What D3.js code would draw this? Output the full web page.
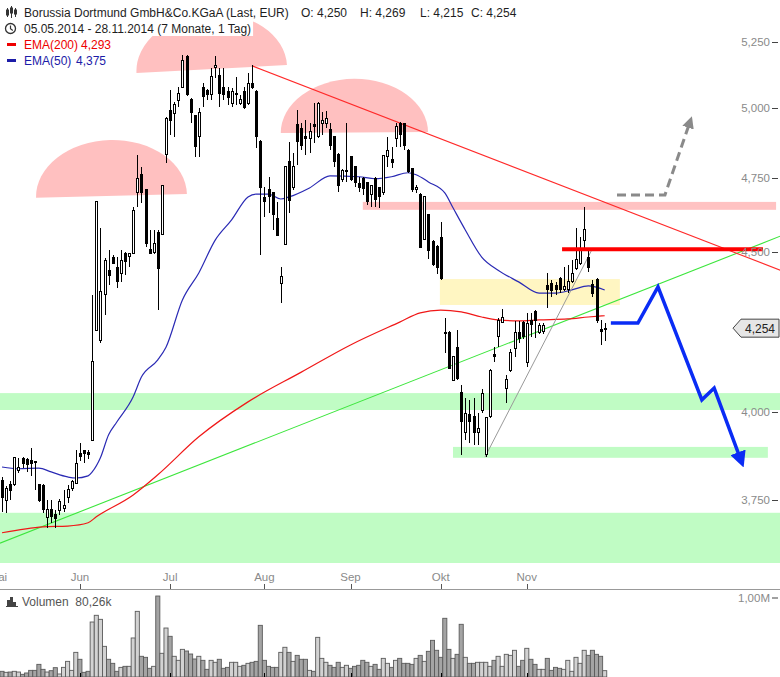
<!DOCTYPE html>
<html><head><meta charset="utf-8">
<script src="https://cdn.jsdelivr.net/npm/d3@7"></script>
<style>
body{margin:0;background:#fff}
svg{display:block;font-family:"Liberation Sans",Arial,sans-serif}
</style>
</head><body>
<svg id="c" width="780" height="677"></svg>
<script>
// ---------------- DATA ----------------
const open=[3.805,3.750,3.794,3.794,3.831,3.865,3.862,3.859,3.857,3.792,
3.789,3.701,3.723,3.709,3.720,3.728,3.756,3.781,3.797,3.879,
3.889,3.884,3.916,4.248,4.217,4.359,4.439,4.482,4.449,4.429,
4.495,4.485,4.495,4.698,4.761,4.708,4.508,4.498,4.565,4.558,
4.831,4.989,4.978,5.029,5.077,5.194,5.033,4.971,4.895,5.077,
5.066,5.048,5.149,5.122,5.077,5.059,5.018,5.048,5.018,5.059,
5.018,5.092,5.059,4.877,4.681,4.708,4.698,4.609,4.397,4.525,
4.806,4.718,4.938,4.927,4.898,4.891,4.938,4.895,4.945,4.945,
4.920,4.895,4.831,4.743,4.773,4.824,4.789,4.729,4.747,4.733,
4.691,4.747,4.715,4.698,4.824,4.813,4.891,4.945,4.942,4.848,
4.782,4.708,4.694,4.541,4.623,4.532,4.518,4.548,4.242,4.242,
4.095,4.195,4.059,3.939,3.992,3.986,3.939,4.006,3.876,3.986,
4.174,4.227,4.273,4.071,4.125,4.192,4.239,4.273,4.147,4.277,
4.305,4.242,4.245,4.388,4.397,4.388,4.413,4.375,4.375,4.401,
4.443,4.462,4.538,4.479,4.391,4.410,4.251,4.250];
const high=[3.814,3.789,3.802,3.870,3.868,3.870,3.868,3.896,3.860,3.794,
3.794,3.750,3.750,3.723,3.753,3.778,3.792,3.805,3.890,3.910,
3.890,3.890,4.359,4.671,4.579,4.479,4.505,4.488,4.482,4.505,
4.498,4.495,4.650,4.831,4.789,4.712,4.572,4.572,4.572,4.726,
4.967,5.066,5.022,5.077,5.198,5.198,5.037,4.975,5.000,5.092,
5.070,5.149,5.194,5.149,5.149,5.077,5.074,5.115,5.048,5.077,
5.130,5.160,5.066,4.884,4.718,4.754,4.701,4.667,4.449,4.792,
4.877,4.838,4.993,4.945,4.956,4.945,5.018,5.022,4.985,4.989,
4.945,4.898,4.838,4.782,4.945,4.827,4.792,4.754,4.754,4.736,
4.726,4.754,4.718,4.831,4.895,4.859,4.945,4.949,4.945,4.852,
4.785,4.726,4.698,4.688,4.626,4.538,4.522,4.599,4.286,4.245,
4.168,4.248,4.080,4.042,4.036,4.042,3.997,4.068,3.986,4.128,
4.195,4.286,4.314,4.110,4.189,4.277,4.277,4.277,4.302,4.302,
4.311,4.270,4.270,4.429,4.407,4.401,4.417,4.449,4.456,4.472,
4.579,4.548,4.650,4.512,4.407,4.413,4.280,4.269];
const low=[3.718,3.715,3.750,3.789,3.825,3.840,3.828,3.817,3.778,3.745,
3.715,3.674,3.688,3.674,3.709,3.718,3.742,3.775,3.794,3.859,
3.853,3.865,3.916,4.245,4.208,4.295,4.391,4.459,4.381,4.401,
4.423,4.449,4.492,4.650,4.664,4.515,4.492,4.492,4.311,4.555,
4.803,4.902,4.895,5.004,5.074,5.044,4.945,4.824,4.824,5.004,
5.029,5.029,5.111,5.004,5.029,5.011,5.004,5.011,5.011,4.996,
5.011,5.070,4.855,4.488,4.616,4.630,4.572,4.552,4.333,4.522,
4.630,4.708,4.796,4.848,4.831,4.838,4.873,4.891,4.902,4.927,
4.848,4.789,4.701,4.736,4.736,4.740,4.718,4.701,4.691,4.657,
4.650,4.650,4.647,4.691,4.789,4.785,4.859,4.859,4.848,4.768,
4.701,4.698,4.512,4.538,4.475,4.452,4.426,4.407,4.177,4.128,
4.092,4.095,3.876,3.919,3.910,3.904,3.904,3.997,3.870,3.983,
4.150,4.195,4.270,4.027,4.119,4.165,4.208,4.220,4.134,4.227,
4.223,4.236,4.236,4.318,4.353,4.359,4.365,4.372,4.365,4.397,
4.439,4.456,4.505,4.433,4.353,4.270,4.202,4.215];
const close=[3.758,3.781,3.775,3.868,3.840,3.853,3.848,3.853,3.854,3.750,
3.723,3.723,3.704,3.699,3.747,3.734,3.778,3.800,3.851,3.873,
3.879,3.876,4.150,4.667,4.369,4.469,4.423,4.462,4.401,4.469,
4.466,4.492,4.637,4.747,4.698,4.528,4.495,4.528,4.446,4.722,
4.963,4.956,5.011,5.055,5.179,5.048,4.982,4.859,4.985,5.044,
5.048,5.115,5.160,5.055,5.048,5.037,5.059,5.055,5.033,5.000,
5.092,5.074,4.895,4.718,4.667,4.684,4.623,4.555,4.417,4.789,
4.671,4.789,4.877,4.866,4.891,4.916,4.931,5.018,4.956,4.960,
4.866,4.806,4.722,4.775,4.776,4.743,4.733,4.718,4.712,4.667,
4.722,4.674,4.684,4.827,4.848,4.803,4.934,4.902,4.866,4.771,
4.708,4.718,4.515,4.684,4.505,4.459,4.449,4.413,4.236,4.131,
4.165,4.101,3.971,3.997,3.971,3.939,3.951,4.056,3.983,4.125,
4.165,4.277,4.286,4.098,4.180,4.242,4.223,4.227,4.270,4.267,
4.277,4.261,4.261,4.375,4.372,4.378,4.375,4.385,4.401,4.429,
4.475,4.505,4.572,4.449,4.362,4.277,4.245,4.254];
// volume in thousands
const volume=[72,59,63,72,63,34,51,84,84,160,
97,63,80,118,38,122,198,84,312,224,
59,72,696,781,730,388,224,173,72,122,
135,135,494,831,262,249,110,135,1025,300,
620,515,262,211,350,329,291,228,262,211,
97,211,186,224,110,122,186,186,135,148,
173,186,198,654,211,135,122,122,312,376,
312,198,274,224,224,84,72,502,236,186,
148,122,186,122,148,110,135,148,211,186,
135,160,97,236,173,122,211,236,173,173,
160,236,274,198,325,464,338,249,743,350,
236,287,667,249,173,173,186,186,186,135,
211,262,135,287,274,338,135,211,363,224,
160,97,97,236,84,122,110,97,211,72,
249,173,338,274,338,287,262,80.26];

const ema50Idx=[0,4,9,12,16,18,21,22,24,26,28,32,34,38,40,44,48,52,56,60,62,65,68,70,75,80,87,91,95,99,101,104,108,110,113,117,121,126,131,135,139,143,147];
const ema50Val=[3.842,3.837,3.839,3.828,3.814,3.811,3.817,3.828,3.868,3.934,3.971,4.045,4.104,4.156,4.195,4.343,4.430,4.538,4.606,4.684,4.694,4.694,4.677,4.684,4.715,4.757,4.754,4.747,4.754,4.768,4.761,4.736,4.698,4.647,4.572,4.482,4.439,4.401,4.365,4.365,4.375,4.388,4.375];
const ema200Idx=[0,10,16,21,23,32,38,48,60,73,85,97,102,107,112,117,121,126,131,138,143,147];
const ema200Val=[3.661,3.677,3.679,3.688,3.704,3.764,3.820,3.928,4.030,4.119,4.202,4.273,4.302,4.311,4.305,4.289,4.280,4.277,4.280,4.283,4.289,4.293];

const priceTicks=[3.75,4.0,4.5,4.75,5.0,5.25];
const monthLabels=["Mai","Jun","Jul","Aug","Sep","Okt","Nov"];
const monthIdx=[-1,19,41,64,85,107,128];

// annotation shapes (index, price)
const caps=[ // [leftIdx,leftPrice,rightIdx,rightPrice,topPrice]
 [8.3,4.681,45.1,4.694,4.884],
 [32.8,5.130,69.5,5.160,5.36],
 [68.0,4.909,103.9,4.913,5.108]];
const greenBands=[[-2,4.006,4.056,191],[110,3.868,3.899,186.8],[-2,3.560,3.715,191]];
const pinkBand=[88,4.640,4.667,188.8];
const yellowBand=[106.8,4.327,4.410,150.7];
const downTrend=[[61.2,5.156],[189.8,4.439]];
const upTrend=[[-0.5,3.633],[189.8,4.551]];
const grayLine=[[117.8,3.870],[144.1,4.512]];
const resistLine=[[136.6,4.508],[185.6,4.508]];
const grayArrow=[[150,4.691],[161.7,4.691],[167.8,4.949]];
const blueArrow=[[148.5,4.270],[155.1,4.270],[160,4.385],[170.7,4.036],[173.7,4.071],[180.2,3.862]];
const lastPrice=4.254;

// ---------------- SCALES ----------------
const svg=d3.select("#c");
const x=d3.scaleLinear().domain([0,147]).range([2,604.7]);
const y=d3.scaleLog().domain([3.75,5.25]).range([500,41.5]);
const yv=d3.scaleLinear().domain([0,1000]).range([677,598]);

const defs=svg.append("defs");
defs.append("clipPath").attr("id","pc").append("rect").attr("x",0).attr("y",0).attr("width",780).attr("height",563);
defs.append("marker").attr("id","ab").attr("viewBox","0 0 10 10").attr("refX",5).attr("refY",5)
 .attr("markerWidth",4.6).attr("markerHeight",4.6).attr("orient","auto").attr("markerUnits","strokeWidth")
 .append("path").attr("d","M0,0L10,5L0,10Z").attr("fill","#0a2cf5");
defs.append("marker").attr("id","ag").attr("viewBox","0 0 10 10").attr("refX",5).attr("refY",5)
 .attr("markerWidth",4).attr("markerHeight",4).attr("orient","auto").attr("markerUnits","strokeWidth")
 .append("path").attr("d","M0,0L10,5L0,10Z").attr("fill","#8a8a8a");

const P=svg.append("g").attr("clip-path","url(#pc)");

// bands
P.selectAll(".gb").data(greenBands).join("rect")
 .attr("x",d=>x(d[0])).attr("width",d=>x(d[3])-x(d[0]))
 .attr("y",d=>y(d[2])).attr("height",d=>y(d[1])-y(d[2])).attr("fill","#c0fcc4");
P.append("rect").attr("x",x(yellowBand[0])).attr("width",x(yellowBand[3])-x(yellowBand[0]))
 .attr("y",y(yellowBand[2])).attr("height",y(yellowBand[1])-y(yellowBand[2])).attr("fill","#fff6c2");
P.append("rect").attr("x",x(pinkBand[0])).attr("width",x(pinkBand[3])-x(pinkBand[0]))
 .attr("y",y(pinkBand[2])).attr("height",y(pinkBand[1])-y(pinkBand[2])).attr("fill","#ffc2c2");

// caps
P.selectAll(".cap").data(caps).join("path").attr("fill","#ffc0c0")
 .attr("d",d=>{
   const x0=x(d[0]),y0=y(d[1]),x1=x(d[2]),y1=y(d[3]);
   const rx=Math.hypot(x1-x0,y1-y0)/2, my=(y0+y1)/2, ry=my-y(d[4]);
   const rot=Math.atan2(y1-y0,x1-x0)*180/Math.PI;
   return `M${x0},${y0}A${rx},${ry} ${rot} 0 1 ${x1},${y1}Z`;
 });

const ln=d3.line().x(d=>x(d[0])).y(d=>y(d[1]));
// trend lines
P.append("path").attr("d",ln(upTrend)).attr("stroke","#3de63d").attr("stroke-width",1.1).attr("fill","none");
P.append("path").attr("d",ln(downTrend)).attr("stroke","#ff2a2a").attr("stroke-width",1.1).attr("fill","none");

// EMAs
const lc=d3.line().curve(d3.curveMonotoneX).x(d=>x(d[0])).y(d=>y(d[1]));
P.append("path").attr("d",lc(ema200Idx.map((d,i)=>[d,ema200Val[i]]))).attr("stroke","#f01818").attr("stroke-width",1.2).attr("fill","none");
P.append("path").attr("d",lc(ema50Idx.map((d,i)=>[d,ema50Val[i]]))).attr("stroke","#2a2ab4").attr("stroke-width",1.2).attr("fill","none");

// gray line
P.append("path").attr("d",ln(grayLine)).attr("stroke","#999").attr("stroke-width",1).attr("fill","none");

// candles
const idx=d3.range(open.length);
const cg=P.append("g").attr("shape-rendering","crispEdges");
cg.selectAll(".w").data(idx).join("line")
 .attr("x1",i=>Math.round(x(i))+0.5).attr("x2",i=>Math.round(x(i))+0.5)
 .attr("y1",i=>y(high[i])).attr("y2",i=>y(low[i])).attr("stroke","#000");
cg.selectAll(".b").data(idx).join("rect")
 .attr("x",i=>Math.round(x(i))-0.5).attr("width",2)
 .attr("y",i=>y(Math.max(open[i],close[i])))
 .attr("height",i=>Math.max(1,Math.abs(y(open[i])-y(close[i]))))
 .attr("fill",i=>close[i]>=open[i]?"#fff":"#000").attr("stroke","#000");

// resistance line & arrows
P.append("path").attr("d",ln(resistLine)).attr("stroke","#ff0000").attr("stroke-width",4).attr("fill","none");
P.append("path").attr("d",ln(grayArrow)).attr("stroke","#8a8a8a").attr("stroke-width",3).attr("stroke-dasharray","9,5").attr("fill","none").attr("marker-end","url(#ag)");
P.append("path").attr("d",ln(blueArrow)).attr("stroke","#0a2cf5").attr("stroke-width",3.5).attr("fill","none").attr("stroke-linejoin","miter").attr("marker-end","url(#ab)");

// right axis
const ax=svg.append("g");
ax.selectAll("text").data(priceTicks).join("text").attr("x",770).attr("y",d=>y(d)+4)
 .attr("text-anchor","end").attr("font-size",11.5).attr("fill","#8a8a8a").text(d=>d3.format(",.3f")(d).replace(".",","));
ax.selectAll("line").data(priceTicks).join("line").attr("x1",772).attr("x2",778).attr("y1",d=>Math.round(y(d))+0.5).attr("y2",d=>Math.round(y(d))+0.5).attr("stroke","#444");

// last price marker
const ly=y(lastPrice);
svg.append("path").attr("d",`M733,${ly}L741,${ly-9}L779,${ly-9}L779,${ly+9}L741,${ly+9}Z`).attr("fill","#e6e6e6").attr("stroke","#444");
svg.append("text").attr("x",760).attr("y",ly+4.5).attr("text-anchor","middle").attr("font-size",12).attr("fill","#222").text(d3.format(".3f")(lastPrice).replace(".",","));

// x axis
svg.append("line").attr("x1",0).attr("x2",780).attr("y1",589.5).attr("y2",589.5).attr("stroke","#999");
const xa=svg.append("g");
xa.selectAll("text").data(monthIdx).join("text").attr("x",d=>x(d)).attr("y",581).attr("text-anchor","middle")
 .attr("font-size",11.5).attr("fill","#8a8a8a").text((d,i)=>monthLabels[i]);
xa.selectAll("line").data(monthIdx).join("line").attr("x1",d=>Math.round(x(d))+0.5).attr("x2",d=>Math.round(x(d))+0.5)
 .attr("y1",584).attr("y2",589).attr("stroke","#555");

// volume
svg.append("g").selectAll("rect").data(idx).join("rect")
 .attr("x",i=>x(i)-2.05).attr("width",4.1).attr("y",i=>yv(volume[i])).attr("height",i=>677-yv(volume[i]))
 .attr("fill",i=>close[i]>=open[i]?"#d2d2d2":"#a4a4a4").attr("stroke","#5a5a5a").attr("stroke-width",0.9);
svg.append("g").selectAll("line").data(monthIdx).join("line").attr("x1",d=>Math.round(x(d))+0.5).attr("x2",d=>Math.round(x(d))+0.5)
 .attr("y1",673).attr("y2",677).attr("stroke","#000");
svg.append("text").attr("x",770).attr("y",602).attr("text-anchor","end").attr("font-size",11.5).attr("fill","#8a8a8a").text("1,00M");
svg.append("line").attr("x1",772).attr("x2",778).attr("y1",yv(1000)).attr("y2",yv(1000)).attr("stroke","#444");
// volume icon + label
const vi=svg.append("g").attr("fill","#444");
vi.append("rect").attr("x",7).attr("y",600).attr("width",3).attr("height",7);
vi.append("rect").attr("x",10).attr("y",597).attr("width",3).attr("height",10);
vi.append("rect").attr("x",13).attr("y",602).attr("width",3).attr("height",5);
vi.append("rect").attr("x",6).attr("y",606).attr("width",12).attr("height",1);
svg.append("text").attr("x",22).attr("y",606).attr("font-size",12).attr("fill","#555")
 .text("Volumen\u00a0\u00a0"+d3.format(".2f")(volume[volume.length-1]).replace(".",",")+"k");

// legend
const L=svg.append("g");
const rows=[
 {y:16.5,parts:[[24,"Borussia Dortmund GmbH&Co.KGaA (Last, EUR)","#1e1e1e"],[301,"O: 4,250","#1e1e1e"],[360,"H: 4,269","#1e1e1e"],[420,"L: 4,215","#1e1e1e"],[471,"C: 4,254","#1e1e1e"]]},
 {y:32.5,parts:[[24,"05.05.2014 - 28.11.2014 (7 Monate, 1 Tag)","#1e1e1e"]]},
 {y:48.5,parts:[[24,"EMA(200)","#ee0000"],[81,"4,293","#ee0000"]]},
 {y:64.5,parts:[[24,"EMA(50)","#1c1ca8"],[76,"4,375","#1c1ca8"]]}];
rows.forEach(r=>{
  const g=L.append("g");
  const bg=g.append("rect").attr("fill","#fff");
  r.parts.forEach(p=>g.append("text").attr("x",p[0]).attr("y",r.y).attr("font-size",12).attr("fill",p[2]).text(p[1]));
  const bb=g.node().getBBox();
  bg.attr("x",0).attr("y",r.y-12.5).attr("width",bb.x+bb.width+2).attr("height",16);
});
// icons
const ic=svg.append("g").attr("stroke","#333").attr("fill","none");
[[7,8,17,10,15],[11,6,18,8,13],[15,8,17,10,14]].forEach(c=>{
  ic.append("line").attr("x1",c[0]+0.5).attr("x2",c[0]+0.5).attr("y1",c[1]).attr("y2",c[2]);
  ic.append("rect").attr("x",c[0]-0.5).attr("y",c[3]).attr("width",2).attr("height",c[4]-c[3]).attr("fill","#333");
});
ic.append("circle").attr("cx",10.5).attr("cy",28.5).attr("r",5).attr("stroke-width",1.3);
ic.append("path").attr("d","M10.5,25.5V28.8L12.8,30.5").attr("stroke-width",1.2);
svg.append("rect").attr("x",7).attr("y",43).attr("width",9).attr("height",3).attr("fill","#ee0000");
svg.append("rect").attr("x",7).attr("y",59).attr("width",9).attr("height",3).attr("fill","#1c1ca8");
</script>
</body></html>
